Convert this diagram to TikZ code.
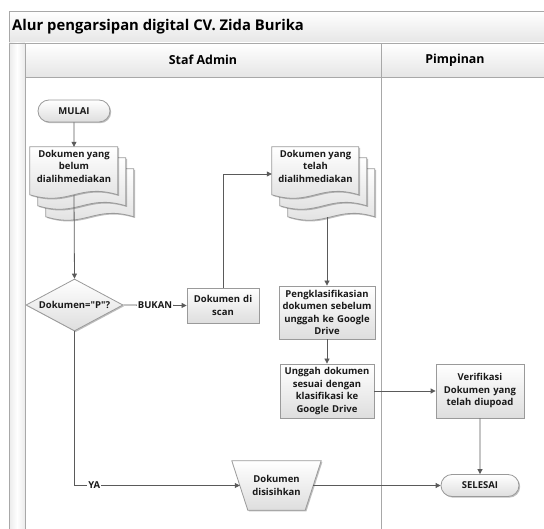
\documentclass[tikz,border=0pt]{standalone}
\usepackage{fontspec}
\setmainfont{Open Sans}[Ligatures=TeXOff]
\usetikzlibrary{shapes.geometric,shapes.misc,arrows.meta,shadows}
\definecolor{frameC}{HTML}{A8A8A8}
\definecolor{lineC}{HTML}{5A5A5A}
\definecolor{shapeC}{HTML}{9A9A9A}
\tikzset{
  shp/.style={draw=shapeC, line width=0.8pt, top color=white, bottom color=black!13,
    drop shadow={shadow xshift=1.2pt, shadow yshift=-1.2pt, opacity=0.25, fill=black}},
  txt/.style={font=\fontsize{9.5}{12.5}\selectfont\bfseries, align=center, text=black!90},
  procbox/.style={shp, txt, rectangle, inner sep=1pt},
  term/.style={shp, txt, rounded rectangle, inner sep=1pt},
  ghost/.style={txt, inner sep=0pt},
  conn/.style={draw=lineC, line width=0.8pt, -{Triangle[length=5pt,width=5pt]}},
  lbl/.style={txt, fill=white, inner sep=1pt},
}
\newcommand{\docpath}[4]{% nw, w, h, amp
  (#1) -- ++(#2,0) -- ++(0,#3) .. controls +(-0.45*#2,-2*#4) and +(0.45*#2,2*#4) .. ++(-#2,0) -- cycle}
\begin{document}
\begin{tikzpicture}[x=1pt,y=-1pt]
\useasboundingbox (0,0) rectangle (544,529);
% pool frame
\draw[frameC, line width=0.8pt, top color=white, bottom color=black!10] (9,11) rectangle (560,43);
\node[font=\fontsize{14.8}{16}\selectfont\bfseries, anchor=west, inner sep=0pt] (title) at (12,27) {Alur pengarsipan digital CV. Zida Burika};
\draw[frameC, line width=0.8pt, left color=black!8, right color=black!8, middle color=white] (9,43) rectangle (25,540);
\draw[frameC, line width=0.8pt, top color=white, bottom color=black!10] (25,43) rectangle (381,77);
\draw[frameC, line width=0.8pt, top color=white, bottom color=black!10] (381,43) rectangle (560,77);
\draw[frameC, line width=0.8pt] (25,77) rectangle (381,540);
\draw[frameC, line width=0.8pt] (381,77) rectangle (560,540);
\node[font=\fontsize{12.4}{14}\selectfont\bfseries] (lane1) at (203,60) {Staf Admin};
\node[font=\fontsize{12.4}{14}\selectfont\bfseries] (lane2) at (455,60) {Pimpinan};

% nodes
\node[term, minimum width=74pt, minimum height=22pt] (mulai) at (74,111) {MULAI};

\node[ghost, minimum width=88pt, minimum height=48pt] (doc1) at (74,171) {};
\draw[shp] \docpath{[shift={(16,22)}]doc1.north west}{88}{48}{6};
\draw[shp] \docpath{[shift={(8,11)}]doc1.north west}{88}{48}{6};
\draw[shp] \docpath{doc1.north west}{88}{48}{6};
\node[txt] (doc1t) at (74,166) {Dokumen yang\\belum\\dialihmediakan};

\node[shp, txt, diamond, aspect=1.87, minimum width=97pt, minimum height=52pt, inner sep=0pt] (dec) at (74.5,305) {Dokumen="P"?};

\node[procbox, minimum width=72pt, minimum height=35pt, text width=70pt] (scan) at (223,305.5) {Dokumen di\\scan};

\node[ghost, minimum width=87pt, minimum height=48pt] (doc2) at (315.5,171) {};
\draw[shp] \docpath{[shift={(16,22)}]doc2.north west}{87}{48}{6};
\draw[shp] \docpath{[shift={(8,11)}]doc2.north west}{87}{48}{6};
\draw[shp] \docpath{doc2.north west}{87}{48}{6};
\node[txt] (doc2t) at (315.5,166) {Dokumen yang\\telah\\dialihmediakan};
\coordinate (doc2b) at ([shift={(11.5,22)}]doc2.south);

\node[procbox, minimum width=96pt, minimum height=53pt, text width=94pt] (klas) at (327,312.5) {Pengklasifikasian\\dokumen sebelum\\unggah ke Google\\Drive};
\node[procbox, minimum width=94pt, minimum height=54pt, text width=92pt] (ungg) at (327,391) {Unggah dokumen\\sesuai dengan\\klasifikasi ke\\Google Drive};
\node[procbox, minimum width=88pt, minimum height=54pt, text width=86pt] (verif) at (480,391) {Verifikasi\\Dokumen yang\\telah diupoad};
\node[term, minimum width=80pt, minimum height=22pt] (selesai) at (480,485.5) {SELESAI};

\node[ghost, minimum width=73pt, minimum height=49pt] (sisih) at (276.5,485.5) {};
\draw[shp] ([xshift=-8pt]sisih.north west) -- ([xshift=8pt]sisih.north east) -- ([xshift=-8pt]sisih.south east) -- ([xshift=8pt]sisih.south west) -- cycle;
\node[txt] (sisiht) at (276.5,485.5) {Dokumen\\disisihkan};

% connectors
\draw[conn] (mulai) -- (doc1.north);
\draw[conn] (doc1.south) -- (dec.north);
\draw[conn] (dec.east) -- node[lbl] {BUKAN} (scan.west);
\draw[conn] (scan.north) |- (doc2.west |- 0,174);
\draw[conn] (doc2b) -- (doc2b |- klas.north);
\draw[conn] (klas) -- (ungg);
\draw[conn] (ungg) -- (verif);
\draw[conn] (verif) -- (selesai);
\draw[conn] (dec.south) |- node[lbl, pos=0.56] {YA} (sisih.west);
\draw[conn] (sisih.east) -- (selesai.west);
\end{tikzpicture}
\end{document}
